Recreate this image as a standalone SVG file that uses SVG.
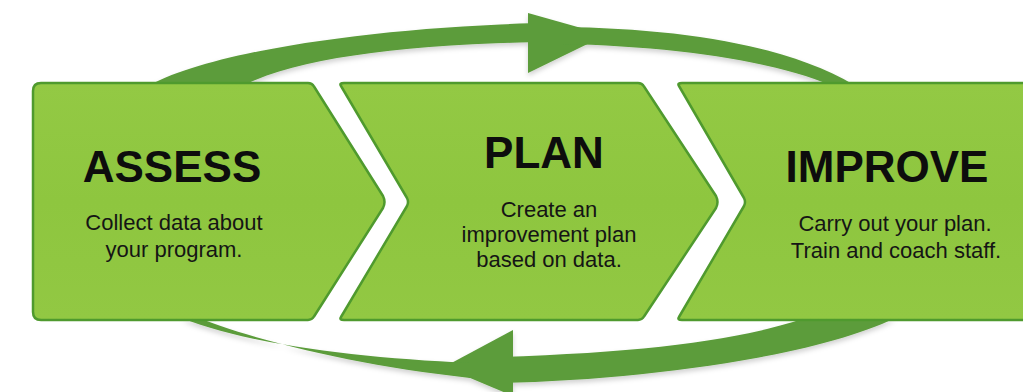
<svg xmlns="http://www.w3.org/2000/svg" width="1023" height="392" viewBox="0 0 1023 392">
  <style>
    .box { fill: #8fc742; stroke: #4f9a2e; stroke-width: 2.5; stroke-linejoin: round; }
    .band { fill: #5b9c3b; }
    .title { font-family: "Liberation Sans", Arial, sans-serif; font-weight: bold; font-size: 44px; fill: #0d0d0d; text-anchor: middle; }
    .desc { font-family: "Liberation Sans", Arial, sans-serif; font-size: 22px; fill: #151515; text-anchor: middle; }
  </style>
  <defs>
    <filter id="soft" x="-10%" y="-20%" width="120%" height="160%">
      <feDropShadow dx="0" dy="3" stdDeviation="2.5" flood-color="#000" flood-opacity="0.18"/>
    </filter>
    <linearGradient id="sheen" x1="0" y1="0" x2="0" y2="1">
      <stop offset="0" stop-color="#93c944"/>
      <stop offset="0.5" stop-color="#8ec63f"/>
      <stop offset="1" stop-color="#92c843"/>
    </linearGradient>
  </defs>
  <rect width="1023" height="392" fill="#ffffff"/>

  <!-- cycle connectors: top arc runs left to right, bottom arc right to left -->
  <g id="connectors" filter="url(#soft)">
    <path class="band" d="M150,85 C215,50 380,27 540,23 L540,42 C400,45 300,58 244,85 Z"/>
    <polygon class="band" points="528,13 606,35 528,73"/>
    <path class="band" d="M560,27 C680,28 790,46 854,85 L830,85 C780,63 680,46 560,44 Z"/>
    <path class="band" d="M895,318 C820,355 650,380 500,383 L500,357 C650,352 740,340 805,318 Z"/>
    <polygon class="band" points="513,330 513,396 444,367"/>
    <path class="band" d="M470,363 C360,358 250,345 182,318 L199,318 C260,342 360,366 470,378 Z"/>
  </g>

  <g id="assess">
    <path class="box" style="fill:url(#sheen)" d="M41,83 H308 Q312,83 314,86.5 L383,196 Q386,202 383,208 L314,316.5 Q312,320 308,320 H41 Q33,320 33,312 V91 Q33,83 41,83 Z"/>
    <text class="title" x="172" y="182">ASSESS</text>
    <text class="desc" x="174" y="230">Collect data about</text>
    <text class="desc" x="174" y="257">your program.</text>
  </g>

  <g id="plan">
    <path class="box" style="fill:url(#sheen)" d="M344,83 H638 Q642,83 644,86.5 L716,196 Q719,202 716,208 L644,316.5 Q642,320 638,320 H344 Q339,320 341,317 L407,206 Q409,202 407,198 L341,86 Q339,83 344,83 Z"/>
    <text class="title" x="544" y="168">PLAN</text>
    <text class="desc" x="549" y="217">Create an</text>
    <text class="desc" x="549" y="242">improvement plan</text>
    <text class="desc" x="549" y="267">based on data.</text>
  </g>

  <g id="improve">
    <path class="box" style="fill:url(#sheen)" d="M682,83 H1030 V320 H682 Q677,320 679,317 L744,206 Q746,202 744,198 L679,86 Q677,83 682,83 Z"/>
    <text class="title" x="887" y="182">IMPROVE</text>
    <text class="desc" x="895" y="231">Carry out your plan.</text>
    <text class="desc" x="896" y="258">Train and coach staff.</text>
  </g>
</svg>
